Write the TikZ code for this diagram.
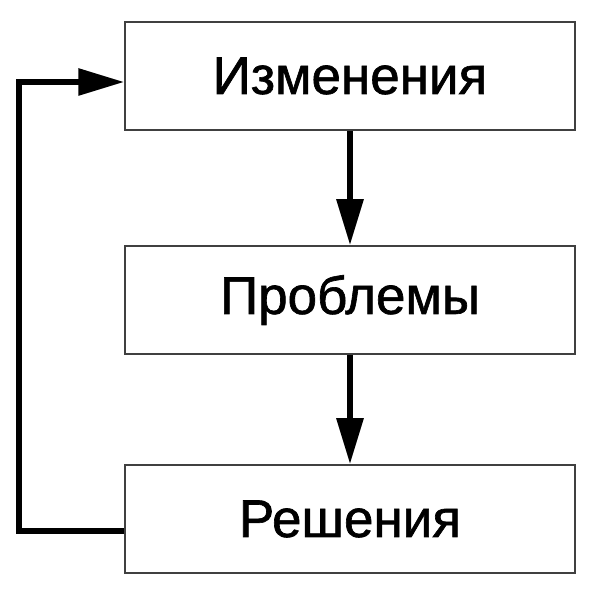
\documentclass[tikz,border=0pt]{standalone}
\usepackage{fontspec}
\setmainfont{Liberation Sans}
\newfontfamily\boxfont[FakeBold=1.2]{Liberation Sans}
\usetikzlibrary{arrows.meta}
\tikzset{
  box/.style={draw=black!75, line width=1.5pt, minimum width=450pt, minimum height=108pt,
    inner sep=0pt, font=\boxfont\fontsize{53}{60}\selectfont},
  thick arrow/.style={line width=6pt, -{Triangle[length=46pt,width=26pt]}}
}
\begin{document}
\begin{tikzpicture}[x=1pt,y=-1pt]
            \useasboundingbox (0,0) rectangle (600,593);
            \node[box] (izm) at (350,76) {Изменения};
            \node[box] (probl) at (350,300) {Проблемы};
            \node[box] (resh) at (350,519) {Решения};

            \draw[thick arrow] (izm) to (probl); \draw[thick arrow] (probl) to (resh);
            \draw[thick arrow] ([yshift=-12pt]resh.west) -- ++(-105,0) |- ([yshift=-6pt]izm.west);
        \end{tikzpicture}
\end{document}
